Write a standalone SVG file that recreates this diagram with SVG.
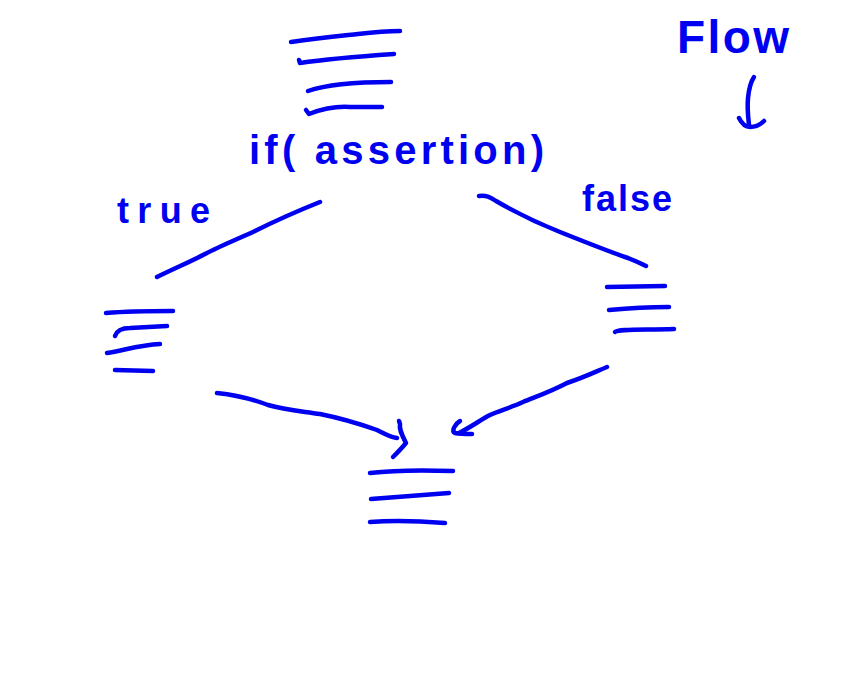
<svg xmlns="http://www.w3.org/2000/svg" width="860" height="675" viewBox="0 0 860 675">
<style>
.s{fill:none;stroke:#0000f0;stroke-width:4.5;stroke-linecap:round;stroke-linejoin:round}
.t{fill:#0000f0;font-family:"Liberation Sans",Arial,sans-serif;font-weight:bold}
</style>
<rect width="860" height="675" fill="#ffffff"/>
<g id="top-block">
<path class="s" d="M291,42 C320,38 340,36 358,34 C375,32 390,31 400,31"/>
<path class="s" d="M299,60 L300,63 C320,60 350,57 394,54"/>
<path class="s" d="M308,91 C325,85 350,82 391,82"/>
<path class="s" d="M306,110 L309,114 C322,109 335,106 350,107 L382,107"/>
</g>
<g id="condition">
<text class="t" x="249" y="164" font-size="40" textLength="295" lengthAdjust="spacing">if( assertion)</text>
</g>
<g id="flow-legend">
<text class="t" x="677" y="53" font-size="46" textLength="112" lengthAdjust="spacing">Flow</text>
<path class="s" d="M754,77 C752,80 749,88 748,98 C747,108 748,116 749,125"/>
<path class="s" d="M739,118 C742,124 746,127 750,127 C756,127 761,124 764,121"/>
</g>
<g id="label-true">
<text class="t" x="117" y="223" font-size="36" textLength="93" lengthAdjust="spacing">true</text>
</g>
<g id="label-false">
<text class="t" x="582" y="211" font-size="36" textLength="90" lengthAdjust="spacing">false</text>
</g>
<g id="true-block">
<path class="s" d="M106,313 C130,311 150,311 173,311"/>
<path class="s" d="M115,336 C117,330 122,328 130,328 L167,326"/>
<path class="s" d="M107,353 C125,350 140,345 160,344"/>
<path class="s" d="M115,370 L153,371"/>
</g>
<g id="false-block">
<path class="s" d="M607,287 L665,286"/>
<path class="s" d="M609,310 C630,308 650,307 669,307"/>
<path class="s" d="M615,332 C618,329 640,330 674,329"/>
</g>
<g id="end-block">
<path class="s" d="M370,473 C395,470 425,470 453,471"/>
<path class="s" d="M371,499 C395,497 420,495 449,493"/>
<path class="s" d="M370,522 C395,520 420,521 445,523"/>
</g>
<g id="connectors">
<path class="s" d="M157,277 C175,268 190,262 205,254 C220,246 240,238 255,231 C275,221 300,210 320,202"/>
<path class="s" d="M479,196 C486,195 490,197 496,201 C515,212 535,222 560,232 C585,242 610,252 628,258 C635,261 640,263 646,266"/>
<path class="s" d="M217,393 C235,395 255,400 268,405 C285,410 300,411 320,414 C345,419 360,424 377,430 C385,434 390,437 397,438"/>
<path class="s" d="M399,421 L400,424 C399,430 402,435 406,443 C401,449 397,453 393,457"/>
<path class="s" d="M607,367 C595,372 585,377 567,383 C550,392 535,397 523,402 C510,408 498,411 490,415 C480,420 473,426 459,433"/>
<path class="s" d="M460,421 C455,424 451,431 455,433 C460,434 466,434 472,434"/>
</g>
</svg>
